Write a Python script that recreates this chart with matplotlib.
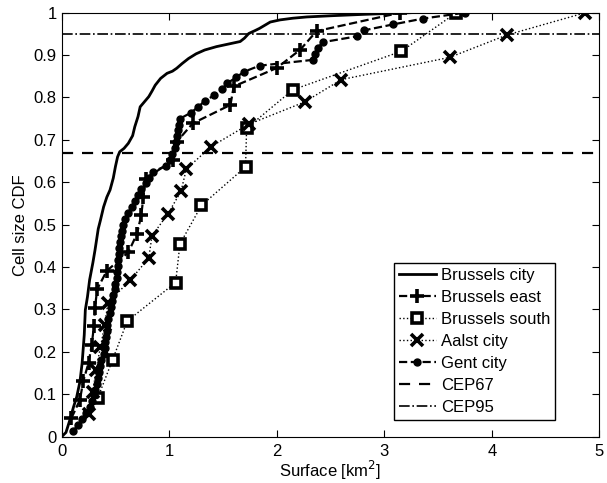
import numpy as np
import matplotlib
matplotlib.use("Agg")
import matplotlib.pyplot as plt

plt.rcParams["font.family"] = ["Liberation Sans", "DejaVu Sans"]

# --- data (surface in km^2) ---
city_x = [0.0, 0.04, 0.077, 0.11, 0.14, 0.17, 0.19, 0.21, 0.22, 0.24, 0.26, 0.29, 0.31, 0.34,
          0.36, 0.39, 0.42, 0.45, 0.48, 0.50, 0.52, 0.54, 0.58, 0.62, 0.66, 0.68, 0.71, 0.73,
          0.77, 0.81, 0.84, 0.87, 0.92, 0.98, 1.03, 1.07, 1.12, 1.18, 1.25, 1.33, 1.44, 1.55,
          1.66, 1.70, 1.74, 1.80, 1.84, 1.90, 1.94, 2.03, 2.15, 2.28, 2.52, 2.80, 3.02, 3.24]
city_y = [0.0, 0.01, 0.04, 0.07, 0.094, 0.13, 0.173, 0.24, 0.299, 0.33, 0.37, 0.41, 0.44, 0.49,
          0.51, 0.542, 0.565, 0.582, 0.61, 0.637, 0.66, 0.672, 0.68, 0.692, 0.71, 0.731, 0.755, 0.778,
          0.79, 0.802, 0.815, 0.829, 0.845, 0.857, 0.862, 0.869, 0.88, 0.892, 0.903, 0.912, 0.92, 0.926,
          0.932, 0.94, 0.951, 0.958, 0.963, 0.972, 0.978, 0.983, 0.987, 0.99, 0.993, 0.996, 0.998, 1.0]

east_x = [0.09, 0.17, 0.20, 0.25, 0.28, 0.30, 0.31, 0.33, 0.42, 0.62, 0.70, 0.74, 0.76, 0.78,
          1.04, 1.07, 1.22, 1.57, 1.60, 2.00, 2.22, 2.37, 3.15]

south_x = [0.335, 0.474, 0.61, 1.06, 1.10, 1.30, 1.71, 1.72, 2.15, 3.16, 3.67]

aalst_x = [0.25, 0.29, 0.32, 0.36, 0.40, 0.43, 0.635, 0.81, 0.84, 0.99, 1.11, 1.16, 1.39,
           1.74, 2.26, 2.60, 3.61, 4.14, 4.87]

gent_x = [0.11, 0.15, 0.19, 0.23, 0.26, 0.28, 0.30, 0.31, 0.33, 0.34, 0.35, 0.36, 0.37, 0.39,
          0.40, 0.40, 0.41, 0.42, 0.42, 0.43, 0.45, 0.46, 0.47, 0.48, 0.50, 0.50, 0.51, 0.51,
          0.52, 0.52, 0.53, 0.53, 0.54, 0.55, 0.56, 0.57, 0.59, 0.62, 0.65, 0.68, 0.71, 0.74,
          0.78, 0.81, 0.85, 0.97, 1.01, 1.03, 1.05, 1.06, 1.07, 1.08, 1.09, 1.10, 1.20, 1.27,
          1.33, 1.42, 1.49, 1.54, 1.62, 1.70, 1.84, 2.34, 2.36, 2.38, 2.43, 2.75, 2.81, 3.08,
          3.36, 3.75]

cep67 = 0.67
cep95 = 0.95


def ecdf(values):
    v = np.sort(np.asarray(values))
    return v, np.arange(1, len(v) + 1) / len(v)


fig = plt.figure(figsize=(6.07, 4.83), dpi=100)
ax = fig.add_axes([0.1016, 0.0959, 0.8857, 0.8778])

ax.plot(city_x, city_y, "-", color="k", lw=2.0, label="Brussels city")
x, y = ecdf(east_x)
ax.plot(x, y, "--", color="k", lw=1.6, marker="+", ms=10, mew=2.6, label="Brussels east")
x, y = ecdf(south_x)
ax.plot(x, y, ":", color="k", lw=1.0, marker="s", ms=6.5, mew=2.6, mfc="white",
        label="Brussels south")
x, y = ecdf(aalst_x)
ax.plot(x, y, ":", color="k", lw=1.0, marker="x", ms=8, mew=2.6, label="Aalst city")
x, y = ecdf(gent_x)
ax.plot(x, y, "--", color="k", lw=1.6, marker="o", ms=5, label="Gent city")
ax.axhline(cep67, color="k", ls="--", lw=1.6, dashes=(5, 4), label="CEP67")
ax.axhline(cep95, color="k", ls="-.", lw=1.2, label="CEP95")

ax.set_xlim(0, 5)
ax.set_ylim(0, 1)
ax.set_xticks(range(6))
ax.set_yticks(np.round(np.arange(0, 1.01, 0.1), 1))
ax.set_yticklabels(["0", "0.1", "0.2", "0.3", "0.4", "0.5", "0.6", "0.7", "0.8", "0.9", "1"])
ax.tick_params(direction="in", top=True, right=True, labelsize=12, length=5)
ax.tick_params(axis="x", pad=5)
ax.set_xlabel("Surface [km$^2$]", fontsize=12, labelpad=0)
ax.set_ylabel("Cell size CDF", fontsize=12)

leg = ax.legend(loc="lower right", bbox_to_anchor=(0.918, 0.04), fontsize=12, fancybox=False,
                framealpha=1, edgecolor="k", handlelength=2.2, borderpad=0.3,
                labelspacing=0.42, handletextpad=0.3, borderaxespad=0)
leg.get_frame().set_linewidth(1.0)

fig.savefig("out.png", dpi=100)
